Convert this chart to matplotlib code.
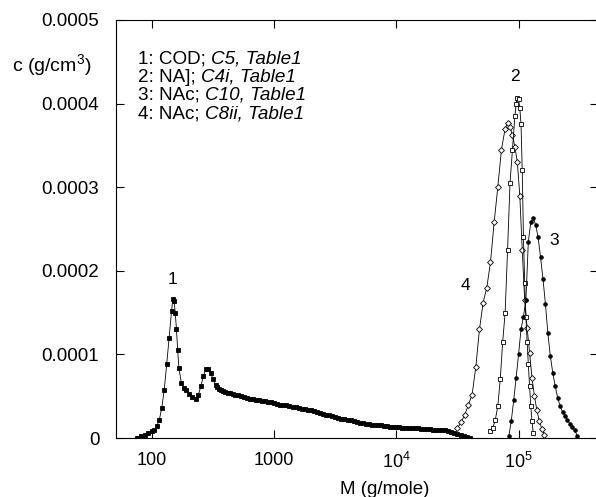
import numpy as np
import matplotlib
matplotlib.use("Agg")
import matplotlib.pyplot as plt

plt.rcParams['font.family'] = ['Liberation Sans', 'DejaVu Sans']
plt.rcParams['mathtext.fontset'] = 'custom'
plt.rcParams['mathtext.rm'] = 'Liberation Sans'
plt.rcParams['mathtext.it'] = 'Liberation Sans:italic'

# log10(M) and c in units of 1e-4 g/cm3
logm_1 = [1.88, 1.91, 1.94, 1.97, 2.00, 2.02, 2.04, 2.06, 2.08, 2.10, 2.12, 2.14,
          2.16, 2.17, 2.18, 2.19, 2.20, 2.21, 2.22, 2.24, 2.26, 2.28, 2.30, 2.33,
          2.36, 2.38, 2.40, 2.42, 2.44, 2.46, 2.48, 2.50, 2.52, 2.535, 2.55, 2.565,
          2.58, 2.60, 2.62, 2.64, 2.66, 2.68, 2.70, 2.725, 2.75, 2.775, 2.80, 2.825,
          2.85, 2.875, 2.90, 2.925, 2.95, 2.975, 3.00, 3.025, 3.05, 3.075, 3.10,
          3.125, 3.15, 3.175, 3.20, 3.225, 3.25, 3.275, 3.30, 3.325, 3.35, 3.375,
          3.40, 3.425, 3.45, 3.475, 3.50, 3.525, 3.55, 3.575, 3.60, 3.625, 3.65,
          3.675, 3.70, 3.725, 3.75, 3.775, 3.80, 3.825, 3.85, 3.875, 3.90, 3.925,
          3.95, 3.975, 4.00, 4.025, 4.05, 4.075, 4.10, 4.125, 4.15, 4.175, 4.20,
          4.225, 4.25, 4.275, 4.30, 4.325, 4.35, 4.375, 4.40, 4.425, 4.45, 4.475,
          4.50, 4.525, 4.55, 4.575, 4.60]
c_1 = [0.00, 0.02, 0.04, 0.06, 0.08, 0.10, 0.14, 0.22, 0.36, 0.58, 0.88, 1.20,
       1.52, 1.66, 1.64, 1.50, 1.30, 1.05, 0.84, 0.66, 0.60, 0.57, 0.53, 0.49,
       0.47, 0.52, 0.62, 0.74, 0.82, 0.83, 0.78, 0.70, 0.63, 0.61, 0.59, 0.58,
       0.56, 0.55, 0.54, 0.54, 0.53, 0.52, 0.51, 0.50, 0.49, 0.48, 0.47, 0.47,
       0.46, 0.45, 0.44, 0.44, 0.43, 0.43, 0.42, 0.41, 0.40, 0.40, 0.39,
       0.38, 0.37, 0.37, 0.36, 0.35, 0.35, 0.34, 0.33, 0.32, 0.31, 0.30,
       0.29, 0.28, 0.27, 0.26, 0.25, 0.24, 0.23, 0.23, 0.22, 0.21, 0.20,
       0.19, 0.18, 0.18, 0.17, 0.17, 0.16, 0.16, 0.15, 0.15, 0.14, 0.14,
       0.13, 0.13, 0.13, 0.13, 0.12, 0.12, 0.12, 0.12, 0.12, 0.12, 0.11,
       0.11, 0.11, 0.11, 0.10, 0.10, 0.10, 0.10, 0.09, 0.08, 0.07, 0.06,
       0.05, 0.04, 0.02, 0.01, 0.00]

logm_2 = [4.77, 4.79, 4.81, 4.83, 4.85, 4.87, 4.89, 4.91, 4.93, 4.95, 4.97, 4.98,
          4.99, 5.00, 5.01, 5.02, 5.03, 5.04, 5.05, 5.06, 5.07, 5.08, 5.09, 5.10,
          5.11, 5.12]
c_2 = [0.08, 0.12, 0.22, 0.38, 0.70, 1.15, 1.50, 2.25, 3.05, 3.45, 3.85, 4.00,
       4.07, 4.05, 3.95, 3.75, 3.20, 2.40, 1.85, 1.45, 1.15, 0.88, 0.62, 0.38,
       0.20, 0.06]

logm_3 = [4.92, 4.94, 4.96, 4.98, 5.00, 5.02, 5.04, 5.06, 5.08, 5.10, 5.12, 5.14,
          5.16, 5.18, 5.20, 5.22, 5.24, 5.26, 5.28, 5.30, 5.32, 5.34, 5.36, 5.38,
          5.40, 5.42, 5.44, 5.46, 5.48]
c_3 = [0.02, 0.20, 0.45, 0.72, 1.00, 1.30, 1.45, 1.65, 2.35, 2.58, 2.63, 2.55,
       2.40, 2.16, 1.90, 1.60, 1.25, 0.98, 0.78, 0.62, 0.48, 0.38, 0.31, 0.26,
       0.22, 0.17, 0.13, 0.10, 0.02]

logm_4 = [4.50, 4.53, 4.56, 4.59, 4.62, 4.65, 4.68, 4.71, 4.74, 4.77, 4.80, 4.83,
          4.86, 4.89, 4.91, 4.93, 4.95, 4.97, 4.99, 5.01, 5.03, 5.05, 5.07, 5.09,
          5.11, 5.13, 5.15, 5.17, 5.19, 5.21]
c_4 = [0.12, 0.19, 0.28, 0.40, 0.52, 0.85, 1.30, 1.62, 1.80, 2.10, 2.58, 3.00,
       3.45, 3.70, 3.77, 3.72, 3.62, 3.48, 3.30, 2.90, 2.25, 1.65, 1.32, 1.02,
       0.72, 0.50, 0.33, 0.20, 0.11, 0.04]

legend_plain = ["1: COD; ", "2: NA]; ", "3: NAc; ", "4: NAc; "]
legend_ital = ["C5, Table1", "C4i, Table1", "C10, Table1", "C8ii, Table1"]

fig = plt.figure(figsize=(5.96, 4.97), dpi=100)
ax = fig.add_axes([0.1946, 0.1187, 0.8084, 0.8411])

def draw(logm, c, marker, face, ms):
    m = 10 ** np.array(logm)
    y = np.array(c) * 1e-4
    ax.plot(m, y, color='black', lw=0.6, marker=marker, ms=ms,
            mfc=face, mec='black', mew=0.6)

draw(logm_1, c_1, 's', 'black', 2.4)
draw(logm_4, c_4, 'D', 'white', 3.0)
draw(logm_2, c_2, 's', 'white', 2.3)
draw(logm_3, c_3, 'o', 'black', 2.6)

ax.set_xscale('log')
ax.set_xlim(50.7, 4.45e5)
ax.set_ylim(0, 0.0005)
ax.set_xticks([100, 1000, 1e4, 1e5])
ax.set_xticklabels(['100', '1000', '$10^4$', '$10^5$'])
ax.set_yticks([0, 0.0001, 0.0002, 0.0003, 0.0004, 0.0005])
ax.set_yticklabels(['0', '0.0001', '0.0002', '0.0003', '0.0004', '0.0005'])
ax.minorticks_off()
ax.tick_params(direction='in', length=6, width=0.8, labelsize=13,
               top=True, right=True)
ax.tick_params(axis='y', pad=12, labelsize=13.5)
ax.tick_params(axis='x', pad=10)

ax.text(146, 0.000189, '1', fontsize=12.5, ha='center', va='center')
ax.text(92700, 0.000432, '2', fontsize=12.5, ha='center', va='center')
ax.text(194000, 0.000236, '3', fontsize=12.5, ha='center', va='center')
ax.text(36800, 0.000183, '4', fontsize=12.5, ha='center', va='center')

for i in range(len(legend_plain)):
    t = ax.text(0.046, 0.907 - i * 0.0438, legend_plain[i],
                transform=ax.transAxes, fontsize=13.6, va='center', ha='left')
    ax.annotate(legend_ital[i], xy=(1, 0.5), xycoords=t, fontsize=13.6,
                fontstyle='italic', va='center', ha='left')

fig.text(0.02, 0.869, 'c (g/cm$^3$)', fontsize=14, ha='left', va='center')
fig.text(0.646, 0.016, 'M (g/mole)', fontsize=13.5, ha='center', va='center')

fig.savefig('out.png', dpi=100)
